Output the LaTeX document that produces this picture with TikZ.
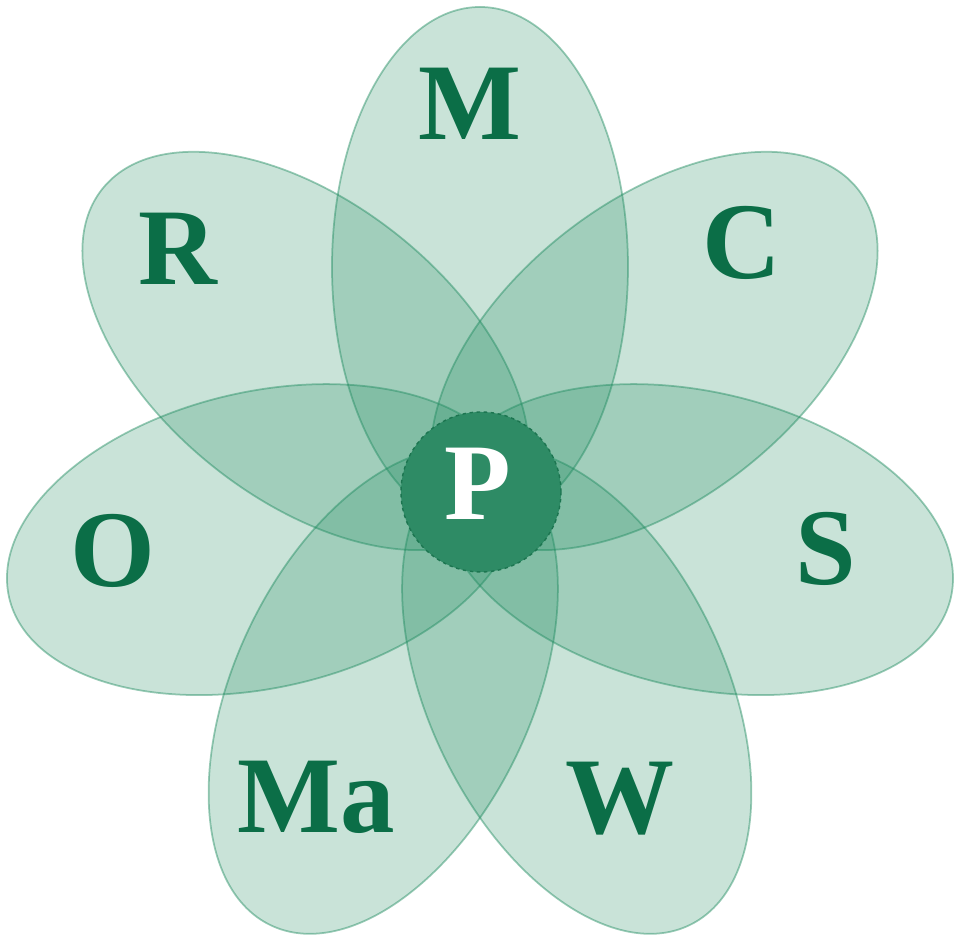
\documentclass[tikz,border=0pt]{standalone}
\usepackage{fontspec}
\setmainfont{Liberation Serif}
\usepackage{xcolor}
\usetikzlibrary{calc}
\definecolor{Leaf}{HTML}{1E8A5E}
\definecolor{Core}{HTML}{2E8B65}
\definecolor{CoreRim}{HTML}{1C7550}
\definecolor{Ink}{HTML}{0B6E47}
\tikzset{
  petal/.style={fill=Leaf,fill opacity=0.24,draw=Leaf,draw opacity=0.45,line width=0.5pt},
  tag/.style={text=Ink,font=\fontsize{31}{35}\selectfont\bfseries,inner sep=0pt}
}

\begin{document}
\begin{tikzpicture}[x=0.01cm,y=0.01cm]
\useasboundingbox (0,0) rectangle (956,943);
\coordinate (ctr) at (480,453);
% seven petals, 360/7 degrees apart
\draw[petal] ($(ctr)+(90:223)$) ellipse [x radius=260,y radius=148,rotate=90];
\draw[petal] ($(ctr)+(38.57:223)$) ellipse [x radius=260,y radius=148,rotate=38.57];
\draw[petal] ($(ctr)+(-12.86:223)$) ellipse [x radius=260,y radius=148,rotate=-12.86];
\draw[petal] ($(ctr)+(-64.29:223)$) ellipse [x radius=260,y radius=148,rotate=-64.29];
\draw[petal] ($(ctr)+(-115.71:223)$) ellipse [x radius=260,y radius=148,rotate=-115.71];
\draw[petal] ($(ctr)+(-167.14:223)$) ellipse [x radius=260,y radius=148,rotate=-167.14];
\draw[petal] ($(ctr)+(141.43:223)$) ellipse [x radius=260,y radius=148,rotate=141.43];
% centre disc
\fill[Core] (481,451) circle (80);
\draw[CoreRim,line width=0.4pt,dash pattern=on 1pt off 1pt] (481,451) circle (80);
\node[tag,text=white] (p) at (478,459) {P};
\node[tag] (m) at (470,839) {M};
\node[tag] (c) at (742,700) {C};
\node[tag] (s) at (826,394) {S};
\node[tag] (w) at (620,144) {W};
\node[tag] (ma) at (316,146) {Ma};
\node[tag] (o) at (113,392) {O};
\node[tag] (r) at (178,694) {R};
\end{tikzpicture}
\end{document}
